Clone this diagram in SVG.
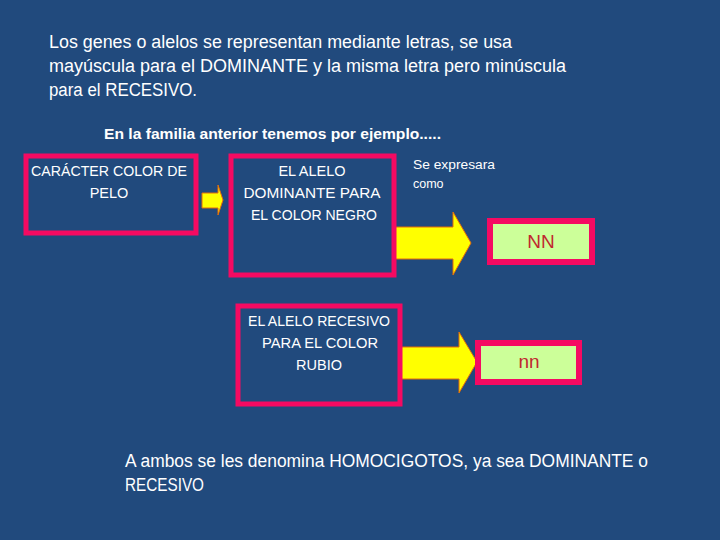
<svg xmlns="http://www.w3.org/2000/svg" width="720" height="540" viewBox="0 0 720 540">
<style>
  .t { font-family: "Liberation Sans", Arial, sans-serif; fill: #ffffff; }
  .big { font-size: 18px; }
  .box { fill: none; stroke: #f50a62; stroke-width: 5; }
  .res { fill: #ccff99; stroke: #f50a62; stroke-width: 6; }
  .lbl { font-size: 14.5px; text-anchor: middle; }
  .arrow { fill: #ffff00; stroke: #e46c0a; stroke-width: 1; }
  .gen { font-family: "Liberation Sans", Arial, sans-serif; font-size: 19px; fill: #c0282f; text-anchor: middle; }
</style>
<rect width="720" height="540" fill="#214a7d"/>

<g id="intro">
  <text class="t big" x="49" y="48" textLength="463" lengthAdjust="spacingAndGlyphs">Los genes o alelos se representan mediante letras, se usa</text>
  <text class="t big" x="49" y="72" textLength="517" lengthAdjust="spacingAndGlyphs">mayúscula para el DOMINANTE y la misma letra pero minúscula</text>
  <text class="t big" x="49" y="96" textLength="148" lengthAdjust="spacingAndGlyphs">para el RECESIVO.</text>
  <text class="t" x="104" y="139" font-size="15" font-weight="bold" textLength="337" lengthAdjust="spacingAndGlyphs">En la familia anterior tenemos por ejemplo.....</text>
</g>

<g id="connectors">
  <path class="arrow" d="M202,193 H218 V185 L223,200 L218,215 V208 H202 Z"/>
  <path class="arrow" d="M395,227 H453 V212 L471,243 L453,275 V259 H395 Z"/>
  <path class="arrow" d="M400,347 H459 V332 L477,362 L459,393 V379 H400 Z"/>
</g>

<g id="caracter">
  <rect class="box" x="26" y="156" width="170" height="77"/>
  <text class="t lbl" x="109" y="176" textLength="156" lengthAdjust="spacingAndGlyphs">CARÁCTER COLOR DE</text>
  <text class="t lbl" x="109" y="198">PELO</text>
</g>

<g id="dominante">
  <rect class="box" x="231" y="156" width="163" height="119"/>
  <text class="t lbl" x="312" y="176">EL ALELO</text>
  <text class="t lbl" x="312" y="198" textLength="137" lengthAdjust="spacingAndGlyphs">DOMINANTE PARA</text>
  <text class="t lbl" x="314" y="220" textLength="126" lengthAdjust="spacingAndGlyphs">EL COLOR NEGRO</text>
</g>

<g id="expresara">
  <text class="t" x="413" y="169" font-size="12.5" textLength="82" lengthAdjust="spacingAndGlyphs">Se expresara</text>
  <text class="t" x="413" y="188" font-size="12.5">como</text>
</g>

<g id="NN">
  <rect class="res" x="490" y="221" width="102" height="41"/>
  <text class="gen" x="541" y="248">NN</text>
</g>

<g id="recesivo">
  <rect class="box" x="238" y="306" width="162" height="98"/>
  <text class="t lbl" x="319" y="326" textLength="142" lengthAdjust="spacingAndGlyphs">EL ALELO RECESIVO</text>
  <text class="t lbl" x="320" y="348" textLength="116" lengthAdjust="spacingAndGlyphs">PARA EL COLOR</text>
  <text class="t lbl" x="319" y="370">RUBIO</text>
</g>

<g id="nn">
  <rect class="res" x="478" y="343" width="101" height="39"/>
  <text class="gen" x="529" y="368">nn</text>
</g>

<g id="conclusion">
  <text class="t big" x="125" y="467" textLength="523" lengthAdjust="spacingAndGlyphs">A ambos se les denomina HOMOCIGOTOS, ya sea DOMINANTE o</text>
  <text class="t big" x="125" y="491" textLength="79" lengthAdjust="spacingAndGlyphs">RECESIVO</text>
</g>
</svg>
